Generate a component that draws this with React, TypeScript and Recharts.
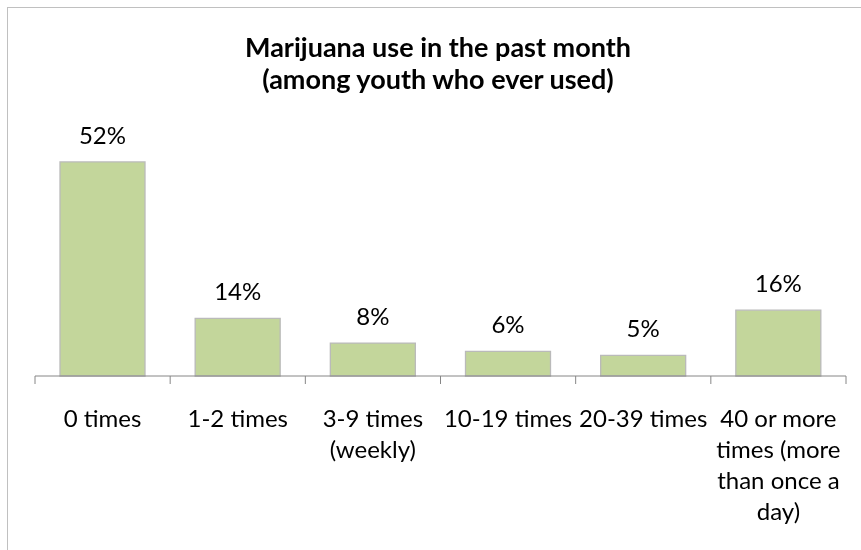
import React from 'react';
import { BarChart, Bar, XAxis, YAxis, LabelList } from 'recharts';

const categories = [
  '0 times',
  '1-2 times',
  '3-9 times\n(weekly)',
  '10-19 times',
  '20-39 times',
  '40 or more\ntimes (more\nthan once a\nday)',
];
const percentages = [52, 14, 8, 6, 5, 16];
const titleLines = ['Marijuana use in the past month', '(among youth who ever used)'];

const data = categories.map((name, i) => ({ name, value: percentages[i] }));

const FONT = 'Lato, "Open Sans", sans-serif';
const CHART_W = 853;
const CHART_H = 542;
const MARGIN = { top: 121, right: 15, left: 27, bottom: 24 };
const BAND = (CHART_W - MARGIN.left - MARGIN.right) / categories.length;
const AXIS_COLOR = '#868686';

// label + the excel-style tick marks between categories
const CategoryTick = (props: any) => {
  const { x, y, payload, index } = props;
  const lines: string[] = String(payload.value).split('\n');
  const left = x - BAND / 2;
  const right = x + BAND / 2;
  return (
    <g>
      <line x1={left} y1={y} x2={left} y2={y + 8} stroke={AXIS_COLOR} />
      {index === categories.length - 1 && <line x1={right} y1={y} x2={right} y2={y + 8} stroke={AXIS_COLOR} />}
      <text x={x} y={y + 51} textAnchor="middle" fill="#000" fontSize={24} fontFamily={FONT}>
        {lines.map((line, i) => (
          <tspan key={i} x={x} dy={i === 0 ? 0 : 31}>
            {line}
          </tspan>
        ))}
      </text>
    </g>
  );
};

const App: React.FC = () => {
  return (
    <div style={{ position: 'relative', width: CHART_W, height: CHART_H }}>
      <div
        style={{
          position: 'fixed',
          left: 7,
          top: 7,
          width: 1000,
          height: 1000,
          border: '1px solid #C0C0C0',
          pointerEvents: 'none',
        }}
      />
      <div
        style={{
          position: 'absolute',
          left: 210,
          top: 23,
          width: 440,
          textAlign: 'center',
          fontFamily: FONT,
          fontWeight: 'bold',
          fontSize: 27,
          lineHeight: '32px',
          color: '#000',
        }}
      >
        {titleLines.map((t) => (
          <div key={t}>{t}</div>
        ))}
      </div>
      <BarChart width={CHART_W} height={CHART_H} data={data} margin={MARGIN} barCategoryGap={25}>
        <XAxis
          dataKey="name"
          height={150}
          axisLine={{ stroke: AXIS_COLOR }}
          tickLine={false}
          tickSize={0}
          tickMargin={0}
          interval={0}
          tick={<CategoryTick />}
        />
        <YAxis hide domain={[0, 60]} />
        <Bar dataKey="value" fill="#C3D69B" stroke="#BABABA" strokeWidth={1.3} isAnimationActive={false}>
          <LabelList
            dataKey="value"
            position="top"
            offset={18}
            formatter={(v: any) => `${v}%`}
            fill="#000"
            fontSize={24}
            fontFamily={FONT}
          />
        </Bar>
      </BarChart>
    </div>
  );
};

export default App;
